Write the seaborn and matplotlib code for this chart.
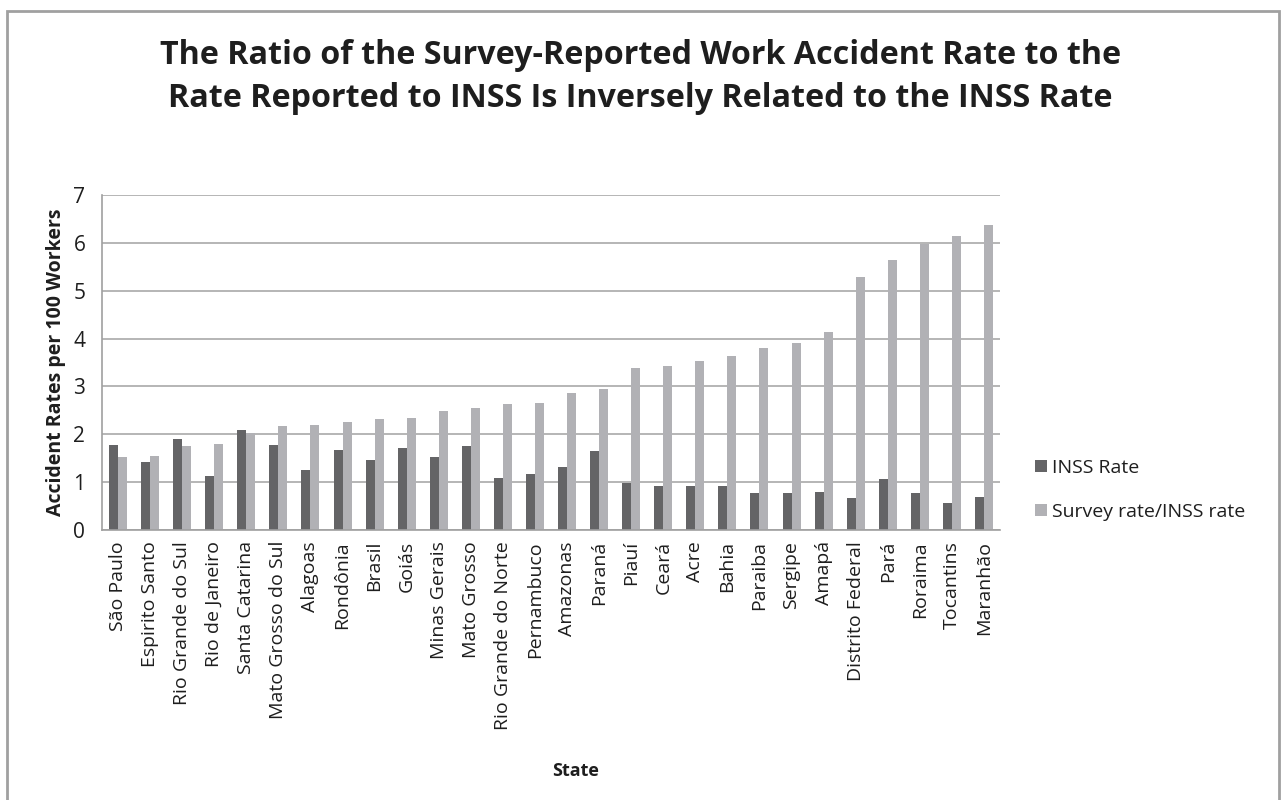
import matplotlib.pyplot as plt
import matplotlib.patches as mpatches
import seaborn as sns
import pandas as pd

# data
states = ['São Paulo', 'Espirito Santo', 'Rio Grande do Sul', 'Rio de Janeiro',
          'Santa Catarina', 'Mato Grosso do Sul', 'Alagoas', 'Rondônia', 'Brasil',
          'Goiás', 'Minas Gerais', 'Mato Grosso', 'Rio Grande do Norte', 'Pernambuco',
          'Amazonas', 'Paraná', 'Piauí', 'Ceará', 'Acre', 'Bahia', 'Paraiba',
          'Sergipe', 'Amapá', 'Distrito Federal', 'Pará', 'Roraima', 'Tocantins',
          'Maranhão']
inss_rate = [1.77, 1.42, 1.91, 1.12, 2.09, 1.77, 1.26, 1.68, 1.46, 1.71, 1.52, 1.75,
             1.08, 1.17, 1.31, 1.66, 0.98, 0.91, 0.91, 0.91, 0.77, 0.78, 0.80, 0.66,
             1.06, 0.78, 0.57, 0.69]
survey_ratio = [1.52, 1.54, 1.75, 1.79, 2.03, 2.17, 2.20, 2.26, 2.31, 2.35, 2.49, 2.55,
                2.63, 2.66, 2.86, 2.94, 3.39, 3.43, 3.54, 3.63, 3.80, 3.91, 4.14, 5.29,
                5.64, 5.98, 6.14, 6.37]
series = ['INSS Rate', 'Survey rate/INSS rate']

df = pd.DataFrame({
    'State': states * 2,
    'value': inss_rate + survey_ratio,
    'series': [series[0]] * len(states) + [series[1]] * len(states),
})

sns.set_style('white')
plt.rcParams['font.family'] = ['Open Sans', 'DejaVu Sans']

fig = plt.figure(figsize=(12.81, 8), dpi=100)
ax = fig.add_axes([102 / 1281, 1 - 530 / 800, 898 / 1281, 335 / 800])

sns.barplot(data=df, x='State', y='value', hue='series', hue_order=series,
            palette=['#646466', '#b1b1b5'], width=0.56, gap=0, saturation=1,
            edgecolor='none', ax=ax)

ax.set_ylim(0, 7)
ax.set_xlim(-0.5, len(states) - 0.5)
ax.set_yticks(range(8))
ax.grid(axis='y', color='#a9a9a9', linewidth=1.2)
ax.set_axisbelow(True)
for s in ['top', 'right']:
    ax.spines[s].set_visible(False)
for s in ['left', 'bottom']:
    ax.spines[s].set_color('#a0a0a0')
    ax.spines[s].set_linewidth(1.2)

# category tick marks sit between the groups, like the original
ax.set_xticks([i - 0.5 for i in range(len(states) + 1)], minor=False)
ax.set_xticklabels([])
ax.set_xticks(range(len(states)), minor=True)
ax.set_xticklabels(states, minor=True, rotation=90, fontsize=14, color='#1e1e1e')
ax.tick_params(axis='x', which='major', length=6, color='#a0a0a0', width=1.2)
ax.tick_params(axis='x', which='minor', length=0, pad=8)
ax.tick_params(axis='y', length=6, color='#a0a0a0', width=1.2, labelsize=15,
               labelcolor='#1e1e1e', pad=6)

ax.set_xlabel('State', fontsize=13, fontweight='bold', color='#1e1e1e')
ax.set_ylabel('Accident Rates per 100 Workers', fontsize=14, fontweight='bold',
              color='#1e1e1e')
ax.xaxis.set_label_coords((576 - 102) / 898, -(762 - 530) / 335)
ax.yaxis.set_label_coords(-(102 - 66) / 898, 0.5)

fig.text(0.5, 1 - 77 / 800,
         'The Ratio of the Survey-Reported Work Accident Rate to the\n'
         'Rate Reported to INSS Is Inversely Related to the INSS Rate',
         ha='center', va='center', fontsize=23.2, fontweight='bold', color='#1e1e1e',
         linespacing=1.4)

ax.legend(loc='center left', bbox_to_anchor=(1035 / 1281, 1 - 490 / 800),
          bbox_transform=fig.transFigure, frameon=False,
          fontsize=14, labelspacing=1.35, handlelength=0.6, handleheight=0.6,
          handletextpad=0.3, borderpad=0, borderaxespad=0, labelcolor='#1e1e1e')

# outer frame of the original chart image
fig.patches.append(mpatches.Rectangle((7 / 1281, -0.05), (1279 - 7) / 1281, 1.05 - 11 / 800,
                                      transform=fig.transFigure, fill=False,
                                      edgecolor='#a0a0a0', linewidth=2))

fig.savefig('out.png', dpi=100)
